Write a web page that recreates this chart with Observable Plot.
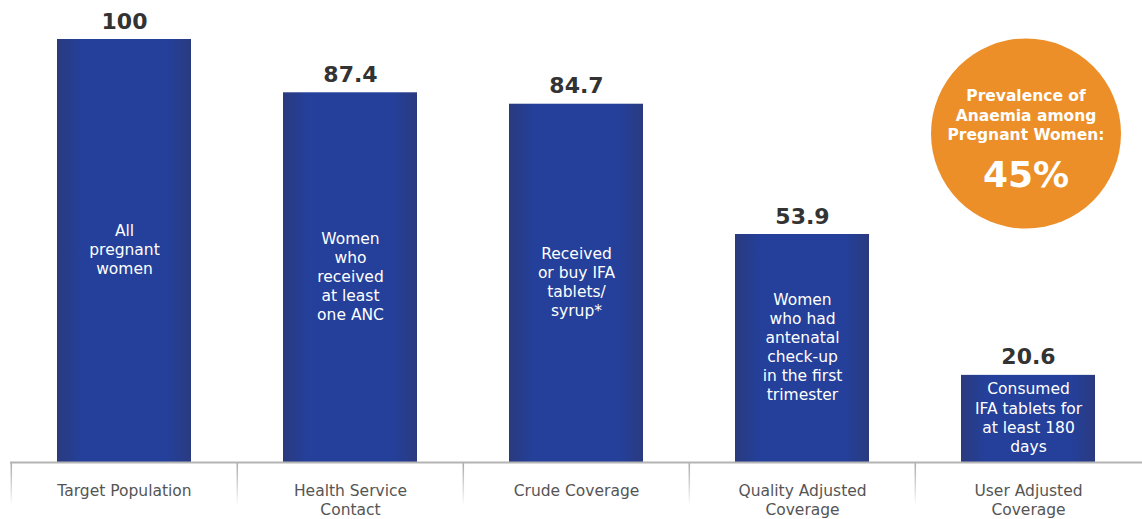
<!DOCTYPE html>
<html>
<head>
<meta charset="utf-8">
<script src="https://cdn.jsdelivr.net/npm/d3@7"></script>
<script src="https://cdn.jsdelivr.net/npm/@observablehq/plot@0.6"></script>
<style>
  html, body { margin: 0; padding: 0; background: #fff; overflow: hidden; }
  #chart { width: 1142px; height: 519px; }
</style>
</head>
<body>
<div id="chart"></div>
<script>
// ---- data ----
const categories = ["Target Population", "Health Service\nContact", "Crude Coverage", "Quality Adjusted\nCoverage", "User Adjusted\nCoverage"];
const values = [100, 87.4, 84.7, 53.9, 20.6];
const barTexts = [
  "All\npregnant\nwomen",
  "Women\nwho\nreceived\nat least\none ANC",
  "Received\nor buy IFA\ntablets/\nsyrup*",
  "Women\nwho had\nantenatal\ncheck-up\nin the first\ntrimester",
  "Consumed\nIFA tablets for\nat least 180\ndays"
];
const calloutTitle = "Prevalence of\nAnaemia among\nPregnant Women:";
const calloutValue = "45%";

const data = categories.map((c, i) => ({cat: c, value: values[i], inner: barTexts[i]}));

const W = 1142, H = 519;
const mL = 10, mR = 0, mT = 39, mB = 57;
const band = (W - mL - mR) / categories.length;

const plot = Plot.plot({
  width: W,
  height: H,
  marginLeft: mL,
  marginRight: mR,
  marginTop: mT,
  marginBottom: mB,
  style: {fontFamily: "'DejaVu Sans', sans-serif", background: "#fff", overflow: "visible"},
  x: {domain: categories, padding: 0, axis: null},
  y: {domain: [0, 100], axis: null},
  marks: [
    // column separators below baseline
    Plot.ruleX(data, {x: "cat", y1: 0, y2: -10.5, dx: -band / 2, stroke: "url(#sepGrad)", strokeWidth: 1.5}),
    Plot.barY(data, {x: "cat", y: "value", fill: "url(#barGrad)", insetLeft: 46, insetRight: 46}),
    Plot.ruleY([0], {stroke: "#b4b4b4", strokeWidth: 2}),
    Plot.text(data, {x: "cat", y: "value", text: d => String(d.value), lineAnchor: "bottom", dy: -11,
      fontSize: 22, fontWeight: "bold", fill: "#333"}),
    Plot.text(data, {x: "cat", y: d => d.value / 2, text: "inner", lineAnchor: "middle", dy: -2,
      fontSize: 15.5, fill: "#ffffff", lineHeight: 1.23}),
    Plot.text(data, {x: "cat", frameAnchor: "bottom", text: "cat", lineAnchor: "top", dy: 20,
      fontSize: 15.5, fill: "#555", lineHeight: 1.23}),
    // callout circle
    Plot.dot([0], {frameAnchor: "top-right", dx: -116.5, dy: 94, r: 95, fill: "#ec8f29", stroke: "none"}),
    Plot.text([calloutTitle], {frameAnchor: "top-right", textAnchor: "middle", dx: -116.5, dy: 75, text: d => d,
      lineAnchor: "middle", fontSize: 15.5, fontWeight: "bold", fill: "#fff", lineHeight: 1.27}),
    Plot.text([calloutValue], {frameAnchor: "top-right", textAnchor: "middle", dx: -116.5, dy: 136, text: d => d,
      lineAnchor: "middle", fontSize: 36, fontWeight: "bold", fill: "#fff"})
  ]
});

// gradients
const svg = d3.select(plot);
const defs = svg.insert("defs", ":first-child");
const g1 = defs.append("linearGradient").attr("id", "barGrad").attr("x1", 0).attr("x2", 1).attr("y1", 0).attr("y2", 0);
[[0, "#2a3a7e"], [0.18, "#24409a"], [0.82, "#24409a"], [1, "#2a3a80"]].forEach(([o, c]) =>
  g1.append("stop").attr("offset", o).attr("stop-color", c));
const g2 = defs.append("linearGradient").attr("id", "sepGrad").attr("gradientUnits", "userSpaceOnUse")
  .attr("x1", 0).attr("x2", 0).attr("y1", H - mB).attr("y2", H - mB + 44);
g2.append("stop").attr("offset", 0).attr("stop-color", "#a8a8a8");
g2.append("stop").attr("offset", 1).attr("stop-color", "#ffffff");

document.getElementById("chart").appendChild(plot);
</script>
</body>
</html>
